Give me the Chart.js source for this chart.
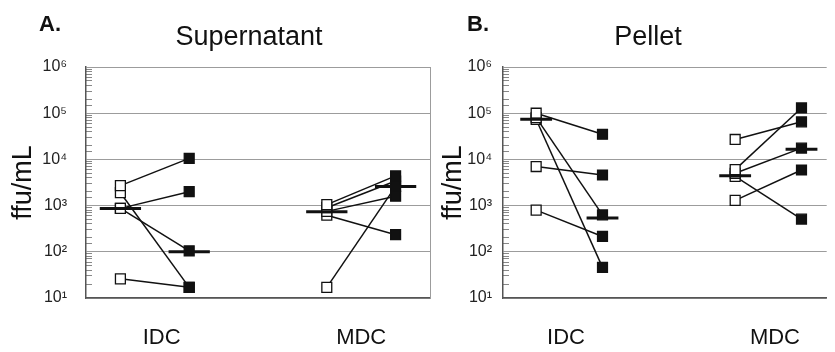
<!DOCTYPE html>
<html>
<head>
<meta charset="utf-8">
<script src="https://cdn.jsdelivr.net/npm/chart.js@4.4.1/dist/chart.umd.min.js"></script>
<style>
  html, body { margin: 0; padding: 0; background: #fff; overflow: hidden; }
  #wrapA { position: absolute; left: 0; top: 0; }
  #wrapB { position: absolute; left: 430px; top: 0; }
</style>
</head>
<body>
<div id="wrapA"><canvas id="chartA" width="440" height="352"></canvas></div>
<div id="wrapB"><canvas id="chartB" width="405" height="352"></canvas></div>
<script>
var categories = ['IDC', 'MDC'];

// open square (before) -> filled square (after), paired by index
var supIdcOpen   = [2700, 1900, 870, 870, 26];
var supIdcFilled = [10500, 17, 2000, 105, 17];
var supMdcOpen   = [1050, 900, 750, 620, 17];
var supMdcFilled = [4400, 3400, 1600, 235, 2600];
var supIdcMedian = [870, 100];
var supMdcMedian = [740, 2600];

var pelIdcOpen   = [100000, 80000, 73000, 7000, 800];
var pelIdcFilled = [35000, 630, 46, 4600, 215];
var pelMdcOpen   = [27000, 6000, 5000, 4300, 1300];
var pelMdcFilled = [65000, 130000, 17500, 510, 5900];
var pelIdcMedian = [74000, 540];
var pelMdcMedian = [4400, 16500];

var FONT = '"Liberation Sans", Arial, Helvetica, sans-serif';
Chart.defaults.font.family = FONT;
Chart.defaults.color = '#111';

var SUP = '⁰¹²³⁴⁵⁶⁷⁸⁹';

function isDecade(v) {
    var e = Math.log10(v);
    return Math.abs(e - Math.round(e)) < 1e-6;
}

function pairDatasets(open, filled, x0) {
    return open.map(function (v, i) {
        return {
            data: [{x: x0, y: v}, {x: x0 + 1, y: filled[i]}],
            borderColor: '#111',
            borderWidth: 1.5,
            pointStyle: 'rect',
            pointRadius: 7,
            pointBackgroundColor: ['#fff', '#111'],
            pointBorderColor: '#111',
            pointBorderWidth: 1.3
        };
    });
}

function medianDatasets(med, x0, half) {
    return med.map(function (m, i) {
        return {
            data: [{x: x0 + i - half, y: m}, {x: x0 + i + half, y: m}],
            borderColor: '#111',
            borderWidth: 3,
            pointRadius: 0
        };
    });
}

// panel letter and title
var panelText = {
    id: 'panelText',
    afterDraw: function (chart, args, opts) {
        var ctx = chart.ctx;
        ctx.save();
        ctx.fillStyle = '#111';
        ctx.textBaseline = 'alphabetic';
        ctx.font = 'bold 22px ' + FONT;
        ctx.textAlign = 'left';
        ctx.fillText(opts.letter, opts.letterX, 31);
        ctx.font = '27px ' + FONT;
        ctx.textAlign = 'center';
        ctx.fillText(opts.title, opts.titleX, 45);
        ctx.restore();
    }
};

function makeChart(id, p) {
    var datasets = medianDatasets(p.idcMed, 0, p.half)
        .concat(medianDatasets(p.mdcMed, 3, p.half))
        .concat(pairDatasets(p.idcOpen, p.idcFilled, 0))
        .concat(pairDatasets(p.mdcOpen, p.mdcFilled, 3));

    var scales = {
        x: {
            type: 'linear',
            min: -0.5,
            max: p.xMax,
            afterBuildTicks: function (s) {
                s.ticks = p.labelPos.map(function (v) { return {value: v}; });
            },
            ticks: {
                callback: function (v, i) { return categories[i]; },
                font: {size: 22},
                color: '#111',
                padding: 27,
                autoSkip: false,
                maxRotation: 0
            },
            grid: {display: false, drawTicks: false},
            border: {display: true, color: '#555', width: 1.5},
            afterFit: function (s) { s.height = 54; }
        },
        y: {
            type: 'logarithmic',
            min: 10,
            max: 1000000,
            ticks: {
                autoSkip: false,
                font: {size: 16},
                color: '#222',
                padding: p.tickPad,
                callback: function (v) {
                    if (!isDecade(v)) return '';
                    return '10' + SUP[Math.round(Math.log10(v))];
                }
            },
            grid: {
                color: function (c) { return c.tick && isDecade(c.tick.value) ? '#9c9c9c' : 'rgba(0,0,0,0)'; },
                tickColor: function (c) { return c.tick && isDecade(c.tick.value) ? 'rgba(0,0,0,0)' : '#888'; },
                tickLength: -6,
                lineWidth: 1
            },
            border: {display: true, color: '#555', width: 1.5},
            title: {
                display: true,
                text: 'ffu/mL',
                font: {size: 27},
                color: '#111',
                padding: {top: 7, bottom: 0}
            },
            afterFit: function (s) { s.width = p.yWidth; }
        }
    };
    if (p.rightBorder) {
        scales.yr = {
            type: 'logarithmic',
            position: 'right',
            min: 10,
            max: 1000000,
            ticks: {display: false},
            grid: {display: false, drawTicks: false},
            border: {display: true, color: '#9c9c9c', width: 1},
            afterFit: function (s) { s.width = 0; }
        };
    }

    return new Chart(document.getElementById(id), {
        type: 'line',
        data: {datasets: datasets},
        options: {
            responsive: false,
            animation: false,
            events: [],
            layout: {padding: {top: 67, right: p.padRight, left: 0, bottom: 0}},
            scales: scales,
            plugins: {
                legend: {display: false},
                tooltip: {enabled: false},
                panelText: {letter: p.letter, letterX: p.letterX, title: p.title, titleX: p.titleX}
            }
        },
        plugins: [panelText]
    });
}

makeChart('chartA', {
    letter: 'A.', letterX: 39, title: 'Supernatant', titleX: 249,
    idcOpen: supIdcOpen, idcFilled: supIdcFilled, mdcOpen: supMdcOpen, mdcFilled: supMdcFilled,
    idcMed: supIdcMedian, mdcMed: supMdcMedian, half: 0.3,
    xMax: 4.5, labelPos: [0.6, 3.5], yWidth: 86, tickPad: 25, padRight: 10, rightBorder: true
});

makeChart('chartB', {
    letter: 'B.', letterX: 37, title: 'Pellet', titleX: 218,
    idcOpen: pelIdcOpen, idcFilled: pelIdcFilled, mdcOpen: pelMdcOpen, mdcFilled: pelMdcFilled,
    idcMed: pelIdcMedian, mdcMed: pelMdcMedian, half: 0.24,
    xMax: 4.38, labelPos: [0.45, 3.6], yWidth: 73, tickPad: 17, padRight: 0, rightBorder: false
});
</script>
</body>
</html>
